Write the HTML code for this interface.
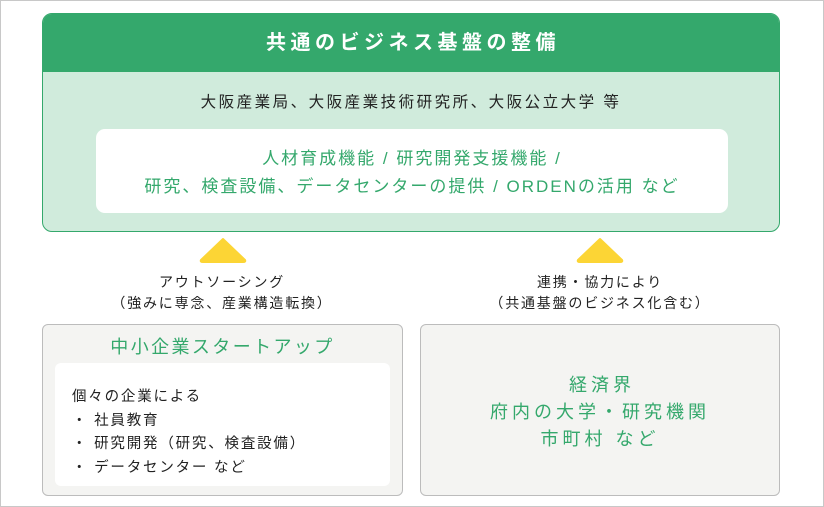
<!DOCTYPE html>
<html><head><meta charset="utf-8"><style>
*{margin:0;padding:0;box-sizing:border-box}
body{width:824px;height:507px;background:#fff;position:relative;overflow:hidden;font-family:"Liberation Sans","Noto Sans CJK JP",sans-serif;color:#222}
.a{position:absolute}
.c{text-align:center;white-space:nowrap}
</style></head><body>
<div class="a" style="left:0;top:0;width:824px;height:507px;border:1px solid #c8c8c8"></div>
<div class="a" style="left:42px;top:13px;width:738px;height:219px;border:1.5px solid #34a86c;border-radius:10px;background:#d0ebdc;overflow:hidden">
  <div class="a c" style="left:0;top:0;width:100%;height:58px;background:#34a86c;color:#fff;font-size:20px;font-weight:bold;line-height:58px;letter-spacing:4.5px;text-indent:4px">共通のビジネス基盤の整備</div>
  <div class="a c" style="left:0;top:78px;width:100%;font-size:15.5px;line-height:22px;letter-spacing:2.5px">大阪産業局、大阪産業技術研究所、大阪公立大学 等</div>
  <div class="a c" style="left:53px;top:115px;width:632px;height:84px;background:#fff;border-radius:9px;color:#34a86c;font-size:17px;line-height:28px;padding-top:16px;letter-spacing:2px">人材育成機能 / 研究開発支援機能 /<br>研究、検査設備、データセンターの提供 / ORDENの活用 など</div>
</div>
<svg class="a" style="left:0;top:0" width="824" height="507">
<path d="M223 239 L245 260 Q246 262 243 262 L203 262 Q200 262 201 260 Z" fill="#fcd535" stroke="#fcd535" stroke-linejoin="round" stroke-width="2"/>
<path d="M600 239 L622 260 Q623 262 620 262 L580 262 Q577 262 578 260 Z" fill="#fcd535" stroke="#fcd535" stroke-linejoin="round" stroke-width="2"/>
</svg>
<div class="a c" style="left:72px;top:272px;width:300px;font-size:14px;line-height:21px;letter-spacing:1.8px">アウトソーシング<br>（強みに専念、産業構造転換）</div>
<div class="a c" style="left:450px;top:272px;width:300px;font-size:14px;line-height:21px;letter-spacing:1.8px">連携・協力により<br>（共通基盤のビジネス化含む）</div>
<div class="a" style="left:42px;top:324px;width:361px;height:172px;background:#f4f4f2;border:1.5px solid #bcbcbc;border-radius:6px">
  <div class="a c" style="left:0;top:9px;width:100%;font-size:18px;line-height:26px;color:#34a86c;letter-spacing:2.4px">中小企業スタートアップ</div>
  <div class="a" style="left:12px;top:38px;width:335px;height:123px;background:#fff;border-radius:6px;font-size:14.5px;line-height:23.5px;padding:23px 0 0 17px;letter-spacing:1.8px">個々の企業による<br>・ 社員教育<br>・ 研究開発（研究、検査設備）<br>・ データセンター など</div>
</div>
<div class="a" style="left:420px;top:324px;width:360px;height:172px;background:#f4f4f2;border:1.5px solid #bcbcbc;border-radius:6px">
  <div class="a c" style="left:0;top:47px;width:100%;font-size:18px;line-height:27px;color:#34a86c;letter-spacing:4px;text-indent:4px">経済界<br>府内の大学・研究機関<br>市町村 など</div>
</div>
</body></html>
